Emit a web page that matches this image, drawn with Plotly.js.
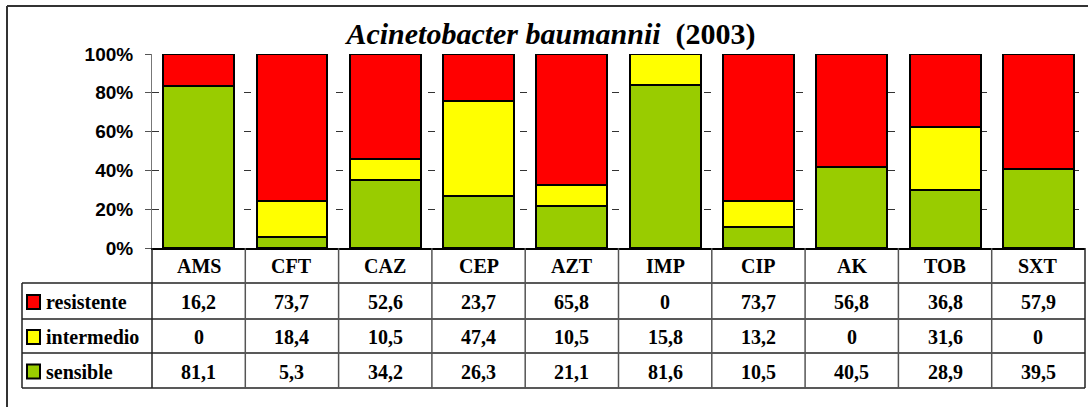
<!DOCTYPE html>
<html>
<head>
<meta charset="utf-8">
<script src="https://cdn.plot.ly/plotly-3.0.1.min.js"></script>
<style>
  html, body { margin: 0; padding: 0; background: #fff; }
  #chart { width: 1088px; height: 407px; }
</style>
</head>
<body>
<div id="chart"></div>
<script>
// Dados
var categories = ['AMS', 'CFT', 'CAZ', 'CEP', 'AZT', 'IMP', 'CIP', 'AK', 'TOB', 'SXT'];
var resistente = [16.2, 73.7, 52.6, 23.7, 65.8, 0, 73.7, 56.8, 36.8, 57.9];
var intermedio = [0, 18.4, 10.5, 47.4, 10.5, 15.8, 13.2, 0, 31.6, 0];
var sensible = [81.1, 5.3, 34.2, 26.3, 21.1, 81.6, 10.5, 40.5, 28.9, 39.5];
var rowNames = ['resistente', 'intermedio', 'sensible'];
var yTicks = [0, 20, 40, 60, 80, 100];

// Geometria (pixels)
var W = 1088, H = 407;
var L = 152, R = 1085, T = 54, B = 248;
function px(x) { return (x - L) / (R - L); }
function py(y) { return (B - y) / (B - T); }

var serif = 'Liberation Serif, Times New Roman, serif';
var sans = 'Liberation Sans, Arial, sans-serif';

var rowColors = ['#FF0000', '#FFFF00', '#99CC00'];
var rowValues = [resistente, intermedio, sensible];

var data = [
    { x: categories, y: sensible, name: 'sensible', type: 'bar',
      marker: { color: '#99CC00', line: { color: '#000', width: 2 } } },
    { x: categories, y: intermedio, name: 'intermedio', type: 'bar',
      marker: { color: '#FFFF00', line: { color: '#000', width: 2 } } },
    { x: categories, y: resistente, name: 'resistente', type: 'bar',
      marker: { color: '#FF0000', line: { color: '#000', width: 2 } } }
];

// Tabela: linhas e textos
var rowEdges = [248, 283, 319, 353, 388];
var shapes = [];
var annotations = [];
var lineStyle = { color: '#222', width: 1.5 };

// linhas horizontais
for (var r = 1; r < rowEdges.length; r++) {
    shapes.push({ type: 'line', xref: 'paper', yref: 'paper',
        x0: px(22), x1: px(R), y0: py(rowEdges[r]), y1: py(rowEdges[r]), line: lineStyle });
}
// linhas verticais entre categorias
for (var c = 0; c <= categories.length; c++) {
    var xp = c / categories.length;
    shapes.push({ type: 'line', xref: 'paper', yref: 'paper',
        x0: xp, x1: xp, y0: py(248), y1: py(388),
        line: { color: (c === 0 || c === categories.length) ? '#222' : '#555', width: 1.5 } });
}
// borda esquerda da tabela
shapes.push({ type: 'line', xref: 'paper', yref: 'paper',
    x0: px(22), x1: px(22), y0: py(283), y1: py(388), line: lineStyle });

// moldura externa
shapes.push({ type: 'line', xref: 'paper', yref: 'paper',
    x0: px(7), x1: px(1090), y0: py(6), y1: py(6), line: { color: '#333', width: 2 } });
shapes.push({ type: 'line', xref: 'paper', yref: 'paper',
    x0: px(7), x1: px(7), y0: py(6), y1: py(410), line: { color: '#333', width: 2 } });

// rótulos das categorias
categories.forEach(function(cat) {
    annotations.push({ x: cat, xref: 'x', yref: 'paper', y: py((rowEdges[0] + rowEdges[1]) / 2),
        text: '<b>' + cat + '</b>', showarrow: false, yanchor: 'middle',
        font: { family: serif, size: 20, color: '#000' } });
});

function fmt(v) { return v === 0 ? '0' : v.toFixed(1).replace('.', ','); }

rowNames.forEach(function(name, r) {
    var yc = (rowEdges[r + 1] + rowEdges[r + 2]) / 2;
    // chave da legenda
    shapes.push({ type: 'rect', xref: 'paper', yref: 'paper',
        x0: px(27), x1: px(40), y0: py(yc + 8), y1: py(yc - 6),
        fillcolor: rowColors[r], line: { color: '#000', width: 2 } });
    annotations.push({ x: px(44), xref: 'paper', yref: 'paper', y: py(yc + 1),
        text: '<b>' + name + '</b>', showarrow: false, xanchor: 'left', yanchor: 'middle',
        font: { family: serif, size: 20, color: '#000' } });
    rowValues[r].forEach(function(v, i) {
        annotations.push({ x: categories[i], xref: 'x', yref: 'paper', y: py(yc + 1),
            text: '<b>' + fmt(v) + '</b>', showarrow: false, yanchor: 'middle',
            font: { family: serif, size: 20, color: '#000' } });
    });
});

var layout = {
    width: W,
    height: H,
    margin: { l: L, r: W - R, t: T, b: H - B, pad: 0 },
    paper_bgcolor: '#fff',
    plot_bgcolor: '#fff',
    barmode: 'stack',
    barnorm: 'percent',
    bargap: 0.24,
    showlegend: false,
    title: {
        text: '<b><i>Acinetobacter baumannii</i>\u00a0\u00a0(2003)</b>',
        xref: 'container', yref: 'container',
        x: 551 / W, xanchor: 'center',
        y: 1 - 33 / H, yanchor: 'middle',
        font: { family: serif, size: 30, color: '#000' }
    },
    xaxis: {
        range: [-0.5, categories.length - 0.5],
        showticklabels: false,
        ticks: '',
        showgrid: false,
        showline: true,
        linecolor: '#000',
        linewidth: 2,
        zeroline: false,
        fixedrange: true
    },
    yaxis: {
        range: [0, 100],
        tickvals: yTicks,
        ticktext: yTicks.map(function(t) { return '<b>' + t + '%</b>'; }),
        ticks: 'outside',
        ticklen: 6,
        tickcolor: '#555',
        tickwidth: 1,
        ticklabelstandoff: 8,
        tickfont: { family: sans, size: 19, color: '#000' },
        showline: true,
        linecolor: '#777',
        linewidth: 1,
        showgrid: true,
        gridcolor: '#333',
        gridwidth: 1,
        griddash: '7px,16px',
        zeroline: false,
        fixedrange: true
    },
    shapes: shapes,
    annotations: annotations
};

Plotly.newPlot('chart', data, layout, { displayModeBar: false, staticPlot: true });
</script>
</body>
</html>
